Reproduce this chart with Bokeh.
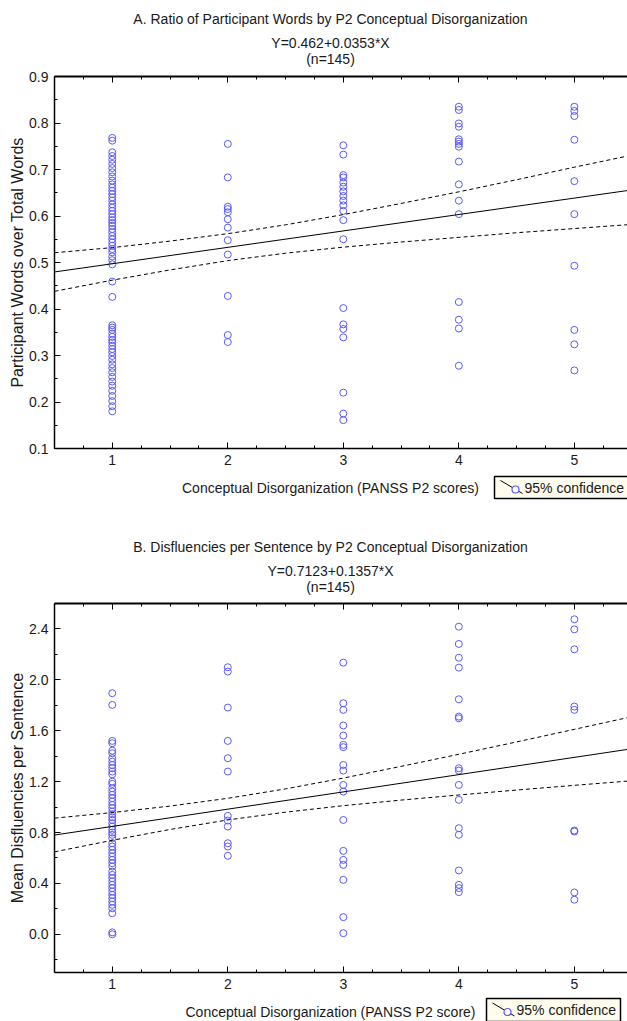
from bokeh.plotting import figure
from bokeh.models import (Range1d, LinearAxis, SingleIntervalTicker,
                          PrintfTickFormatter)
from bokeh.layouts import column
from bokeh.embed import file_html
from bokeh.resources import INLINE
from bokeh.core.properties import value

# ---------------- data ----------------
p2_scores = [1, 2, 3, 4, 5]

# Panel A: ratio of participant words, by P2 score
a_p2_1 = [0.768, 0.762, 0.737, 0.729, 0.721, 0.712, 0.703, 0.694, 0.685, 0.676,
          0.668, 0.661, 0.654, 0.647, 0.640, 0.633, 0.625, 0.618, 0.611, 0.604,
          0.597, 0.591, 0.585, 0.579, 0.572, 0.565, 0.557, 0.550, 0.543, 0.536,
          0.529, 0.522, 0.513, 0.505, 0.496, 0.459, 0.426, 0.365, 0.360, 0.355,
          0.347, 0.340, 0.333, 0.328, 0.321, 0.314, 0.307, 0.299, 0.291, 0.281,
          0.273, 0.264, 0.254, 0.244, 0.235, 0.224, 0.213, 0.202, 0.191, 0.180]
a_p2_2 = [0.755, 0.683, 0.620, 0.615, 0.608, 0.593, 0.575, 0.548, 0.517, 0.428,
          0.344, 0.329]
a_p2_3 = [0.752, 0.732, 0.688, 0.683, 0.672, 0.663, 0.653, 0.643, 0.633, 0.623,
          0.611, 0.591, 0.550, 0.402, 0.367, 0.357, 0.339, 0.220, 0.175, 0.161]
a_p2_4 = [0.835, 0.828, 0.799, 0.792, 0.765, 0.760, 0.755, 0.749, 0.717, 0.668,
          0.633, 0.604, 0.415, 0.377, 0.358, 0.278]
a_p2_5 = [0.835, 0.826, 0.815, 0.764, 0.675, 0.604, 0.493, 0.355, 0.324, 0.268]
a_intercept, a_slope = 0.462, 0.0353
a_titles = ["A. Ratio of Participant Words by P2 Conceptual Disorganization",
            "Y=0.462+0.0353*X", "(n=145)"]
a_xlabel = "Conceptual Disorganization (PANSS P2 scores)"
a_ylabel = "Participant Words over Total Words"

# Panel B: mean disfluencies per sentence, by P2 score
b_p2_1 = [1.895, 1.803, 1.520, 1.502, 1.443, 1.423, 1.384, 1.357, 1.331, 1.305,
          1.279, 1.258, 1.200, 1.182, 1.148, 1.122, 1.096, 1.070, 1.043, 1.017,
          0.991, 0.965, 0.944, 0.920, 0.899, 0.873, 0.847, 0.821, 0.800, 0.782,
          0.755, 0.716, 0.690, 0.664, 0.637, 0.611, 0.585, 0.559, 0.533, 0.493,
          0.467, 0.441, 0.415, 0.389, 0.363, 0.336, 0.310, 0.284, 0.258, 0.232,
          0.205, 0.166, 0.015, 0.000]
b_p2_2 = [2.099, 2.065, 1.782, 1.520, 1.384, 1.279, 0.931, 0.894, 0.847, 0.716,
          0.690, 0.617]
b_p2_3 = [2.135, 1.816, 1.764, 1.641, 1.562, 1.489, 1.471, 1.331, 1.287, 1.174,
          1.122, 0.899, 0.656, 0.585, 0.546, 0.428, 0.135, 0.009]
b_p2_4 = [2.418, 2.282, 2.174, 2.096, 1.847, 1.711, 1.698, 1.305, 1.287, 1.174,
          1.057, 0.834, 0.782, 0.502, 0.389, 0.363, 0.332]
b_p2_5 = [2.476, 2.397, 2.240, 1.790, 1.764, 0.816, 0.808, 0.329, 0.272]
b_intercept, b_slope = 0.7123, 0.1357
b_titles = ["B. Disfluencies per Sentence by P2 Conceptual Disorganization",
            "Y=0.7123+0.1357*X", "(n=145)"]
b_xlabel = "Conceptual Disorganization (PANSS P2 score)"
b_ylabel = "Mean Disfluencies per Sentence"

# 95% confidence band
ci_x = [0.5, 1.0, 1.5, 2.0, 2.5, 3.0, 3.5, 4.0, 4.5, 5.0, 5.5]
a_ci_upper = [0.521, 0.532, 0.546, 0.562, 0.581, 0.603, 0.627, 0.652, 0.678, 0.705, 0.731]
a_ci_lower = [0.438, 0.462, 0.484, 0.504, 0.520, 0.533, 0.544, 0.554, 0.564, 0.573, 0.582]
b_ci_upper = [0.913, 0.957, 1.008, 1.069, 1.143, 1.228, 1.320, 1.415, 1.512, 1.611, 1.711]
b_ci_lower = [0.648, 0.739, 0.824, 0.899, 0.960, 1.011, 1.055, 1.095, 1.134, 1.171, 1.207]
legend_label = "95% confidence"

# ---------------- styling ----------------
FONT = "Liberation Sans"
TXT = "#1a1a1a"
PT = "#5a5aff"
X_START, X_END = 0.5, 5.46
W = 627
LB = 54          # left border (frame left edge, px)
TEXT_CX = 330    # horizontal centre of the titles / x label (px)


def flatten(groups):
    xs, ys = [], []
    for score, vals in zip(p2_scores, groups):
        xs += [score] * len(vals)
        ys += vals
    return xs, ys


def style_axis(ax, labels=True):
    ax.axis_line_color = "black"
    ax.axis_line_width = 1.5
    ax.major_tick_in = 6
    ax.major_tick_out = 0
    ax.minor_tick_in = 3
    ax.minor_tick_out = 0
    ax.major_tick_line_color = "black"
    ax.minor_tick_line_color = "black"
    ax.major_label_text_font = FONT
    ax.major_label_text_font_size = "14px" if labels else "1px"
    ax.major_label_text_color = TXT
    ax.major_label_standoff = 6 if labels else 0


def blank_strip(height):
    # a strip whose data coordinates are page pixels (x) and px from its bottom (y)
    s = figure(width=W, height=height, x_range=Range1d(LB, W), y_range=Range1d(0, height),
               output_backend="svg", toolbar_location=None, x_axis_type=None,
               y_axis_type=None, min_border_left=LB, min_border_right=0,
               min_border_top=0, min_border_bottom=0)
    s.outline_line_color = None
    s.xgrid.visible = False
    s.ygrid.visible = False
    return s


def text_at(s, x, y, txt, align="center"):
    s.text(x=[x], y=[y], text=[txt], text_align=align, text_baseline="middle",
           text_font=value(FONT), text_font_size="14px", text_color=TXT)


def make_header(height, titles, ys):
    h = blank_strip(height)
    for t, y in zip(titles, ys):
        text_at(h, TEXT_CX, y, t)
    return h


def make_panel(groups, intercept, slope, ci_up, ci_lo, yr, yint, ylabel, height):
    p = figure(width=W, height=height, x_range=Range1d(X_START, X_END),
               y_range=Range1d(*yr), output_backend="svg", toolbar_location=None,
               x_axis_type=None, y_axis_type=None,
               min_border_left=LB, min_border_right=0,
               min_border_top=6, min_border_bottom=24)
    p.outline_line_color = None
    p.xgrid.visible = False
    p.ygrid.visible = False

    bottom = LinearAxis(ticker=SingleIntervalTicker(interval=1, num_minor_ticks=4))
    style_axis(bottom)
    p.add_layout(bottom, "below")

    top = LinearAxis(ticker=SingleIntervalTicker(interval=1, num_minor_ticks=4),
                     major_label_overrides={1: "", 2: "", 3: "", 4: "", 5: ""})
    style_axis(top, labels=False)
    top.axis_line_width = 2
    p.add_layout(top, "above")

    left = LinearAxis(ticker=SingleIntervalTicker(interval=yint, num_minor_ticks=2),
                      formatter=PrintfTickFormatter(format="%.1f"),
                      axis_label=ylabel)
    style_axis(left)
    left.axis_label_text_font = FONT
    left.axis_label_text_font_size = "16px"
    left.axis_label_text_font_style = "normal"
    left.axis_label_text_color = TXT
    left.axis_label_standoff = 0
    p.add_layout(left, "left")

    xs, ys = flatten(groups)
    p.scatter(xs, ys, marker="circle", size=7, fill_color=None,
              line_color=PT, line_width=1)
    fx = [X_START, X_END]
    p.line(fx, [intercept + slope * v for v in fx], line_color="black", line_width=1)
    p.line(ci_x, ci_up, line_color="black", line_width=1, line_dash="4 3")
    p.line(ci_x, ci_lo, line_color="black", line_width=1, line_dash="4 3")
    return p


def make_footer(height, xlabel, label_y, box_left, box_right, box_top, box_bottom):
    s = blank_strip(height)
    text_at(s, TEXT_CX, label_y, xlabel)
    # legend box
    s.quad(left=[box_left], right=[box_right], top=[box_top], bottom=[box_bottom],
           fill_color="#fffcee", line_color="black", line_width=1.5)
    cy = (box_top + box_bottom) / 2
    s.segment(x0=[box_left + 6], y0=[cy + 7], x1=[box_left + 28], y1=[cy - 6],
              line_color="black", line_width=1)
    s.scatter(x=[box_left + 21], y=[cy - 2], marker="circle", size=7,
              fill_color="#fffcee", line_color=PT, line_width=1.2)
    text_at(s, box_left + 30, cy, legend_label, align="left")
    return s


hA = make_header(70, a_titles, [52, 28, 12])
pA = make_panel([a_p2_1, a_p2_2, a_p2_3, a_p2_4, a_p2_5], a_intercept, a_slope,
                a_ci_upper, a_ci_lower, (0.1, 0.9), 0.1, a_ylabel, 402)
sA = make_footer(34, a_xlabel, 19, 494, 660, 30, 8)

hB = make_header(91, b_titles, [51, 27, 11])
pB = make_panel([b_p2_1, b_p2_2, b_p2_3, b_p2_4, b_p2_5], b_intercept, b_slope,
                b_ci_upper, b_ci_lower, (-0.3, 2.6), 0.4, b_ylabel, 399)
sB = make_footer(25, b_xlabel, 10, 486, 620, 23, 0)

layout = column(hA, pA, sA, hB, pB, sB)
open("out.html", "w").write(file_html(layout, INLINE))
